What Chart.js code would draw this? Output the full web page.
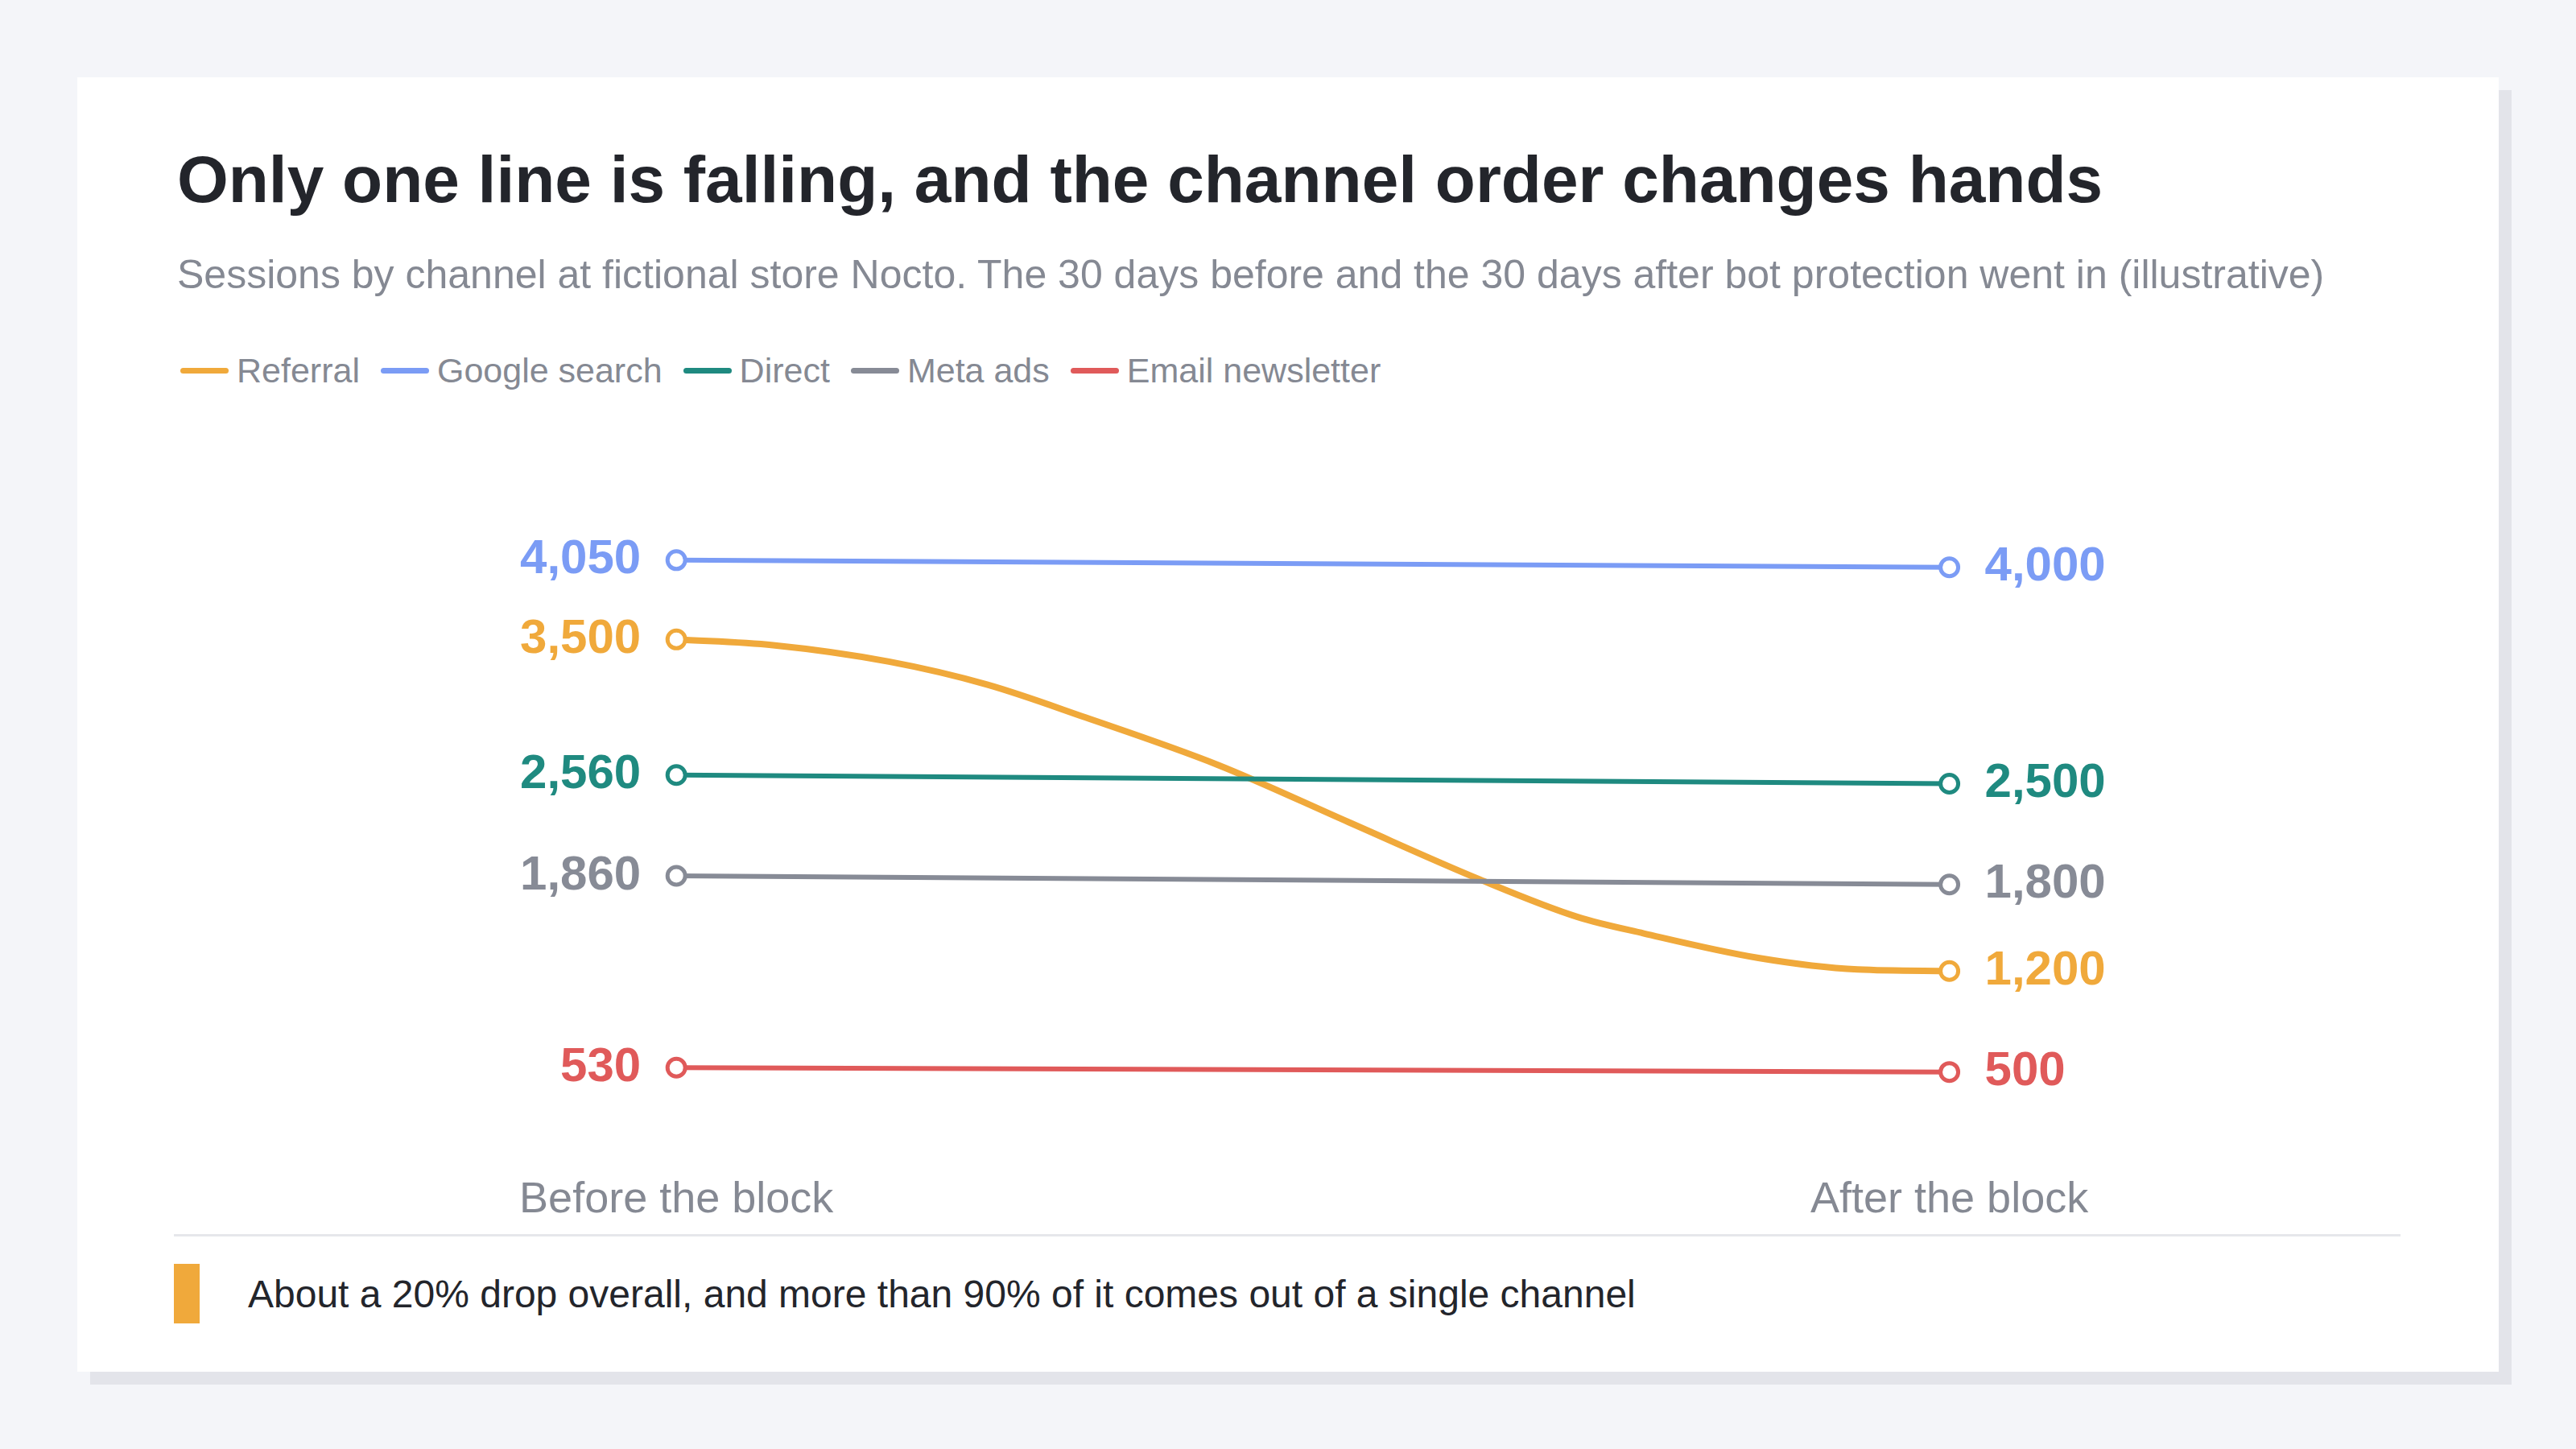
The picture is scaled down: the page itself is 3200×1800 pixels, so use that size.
<!DOCTYPE html>
<html><head><meta charset="utf-8">
<script src="https://cdn.jsdelivr.net/npm/chart.js@4"></script>
<style>
html,body{margin:0;padding:0;background:#f4f5f9;width:3200px;height:1800px;overflow:hidden;font-family:"Helvetica Neue",Arial,"Liberation Sans",sans-serif;}
#card{position:absolute;left:96px;top:96px;width:3008px;height:1608px;background:#fff;box-shadow:16px 16px 0 #e3e4ea;}
#title{position:absolute;left:124px;top:80px;font-size:82px;font-weight:bold;color:#23252b;white-space:nowrap;}
#sub{position:absolute;left:124px;top:216px;font-size:50px;color:#858993;white-space:nowrap;}
#legend{position:absolute;left:128px;top:340px;font-size:43px;color:#858993;display:flex;gap:26px;white-space:nowrap;}
#legend span{display:flex;align-items:center;}
#legend i{display:inline-block;width:60px;height:7px;border-radius:4px;margin-right:10px;}
#cw{position:absolute;left:120px;top:479px;width:2764px;height:979px;}
#rule{position:absolute;left:120px;top:1437px;width:2766px;height:3px;background:#e6e7eb;}
#note{position:absolute;left:120px;top:1474px;display:flex;align-items:center;font-size:48px;color:#23252b;white-space:nowrap;}
#note b{display:inline-block;width:32px;height:74px;background:#f0a93b;margin-right:60px;}
</style></head><body>
<div id="card">
<div id="title">Only one line is falling, and the channel order changes hands</div>
<div id="sub">Sessions by channel at fictional store Nocto. The 30 days before and the 30 days after bot protection went in (illustrative)</div>
<div id="legend"></div>
<div id="cw"><canvas id="c"></canvas></div>
<div id="rule"></div>
<div id="note"><b></b>About a 20% drop overall, and more than 90% of it comes out of a single channel</div>
</div>
<script>
const periods=["Before the block","After the block"];
const channels=["Referral","Google search","Direct","Meta ads","Email newsletter"];
const colors=["#f0a93b","#7b9cf5","#1f8a80","#878b96","#e05a5a"];
const googleVals=[4050,4000];
const directVals=[2560,2500];
const metaVals=[1860,1800];
const emailVals=[530,500];
const referralX=[0,0.076,0.167,0.244,0.321,0.425,0.528,0.631,0.708,0.76,0.85,0.928,1];
const referralVals=[3500,3460,3346,3187,2960,2631,2233,1836,1575,1461,1291,1211,1200];

const lg=document.getElementById('legend');
channels.forEach((n,i)=>{lg.innerHTML+=`<span><i style="background:${colors[i]}"></i>${n}</span>`;});

function two(v){return [{x:0,y:v[0]},{x:1,y:v[1]}];}
const refData=referralX.map((x,i)=>({x,y:referralVals[i]}));
function ds(label,data,color,w,curve){
 return {label,data,borderColor:color,borderWidth:w,backgroundColor:'#fff',
  pointBorderColor:color,pointBackgroundColor:'#fff',pointBorderWidth:5,
  pointRadius:ctx=>(ctx.raw.x===0||ctx.raw.x===1)?11:0,pointHoverRadius:0,
  cubicInterpolationMode:curve?'monotone':'default',tension:0};
}
const fmt=v=>v.toLocaleString('en-US');
const labelPlugin={id:'vl',afterDatasetsDraw(chart){
 const c=chart.ctx;c.save();c.font='bold 60px "Helvetica Neue",Arial,"Liberation Sans",sans-serif';c.textBaseline='middle';
 chart.data.datasets.forEach((d,i)=>{
  const meta=chart.getDatasetMeta(i);const pts=meta.data;
  const f=pts[0],l=pts[pts.length-1];c.fillStyle=d.borderColor;
  c.textAlign='right';c.fillText(fmt(d.data[0].y),f.x-44,f.y);
  c.textAlign='left';c.fillText(fmt(d.data[d.data.length-1].y),l.x+44,l.y);
 });c.restore();}};
new Chart(document.getElementById('c'),{type:'line',
 data:{datasets:[
  ds('Google search',two(googleVals),colors[1],6),
  ds('Direct',two(directVals),colors[2],6),
  ds('Meta ads',two(metaVals),colors[3],6),
  ds('Email newsletter',two(emailVals),colors[4],6),
  ds('Referral',refData,colors[0],8,true)
 ]},
 options:{responsive:true,maintainAspectRatio:false,animation:false,
  layout:{padding:{top:20}},
  plugins:{legend:{display:false},tooltip:{enabled:false}},
  scales:{
   x:{type:'linear',min:-0.3846,max:1.343,grid:{display:false},border:{display:false},
    afterBuildTicks:s=>{s.ticks=[{value:0},{value:1}];},
    ticks:{padding:30,color:'#858993',font:{size:54,family:'"Helvetica Neue",Arial,"Liberation Sans",sans-serif'},callback:v=>periods[v],maxRotation:0}},
   y:{display:false,min:0,max:4613}
  }},
 plugins:[labelPlugin]});
</script>
</body></html>
